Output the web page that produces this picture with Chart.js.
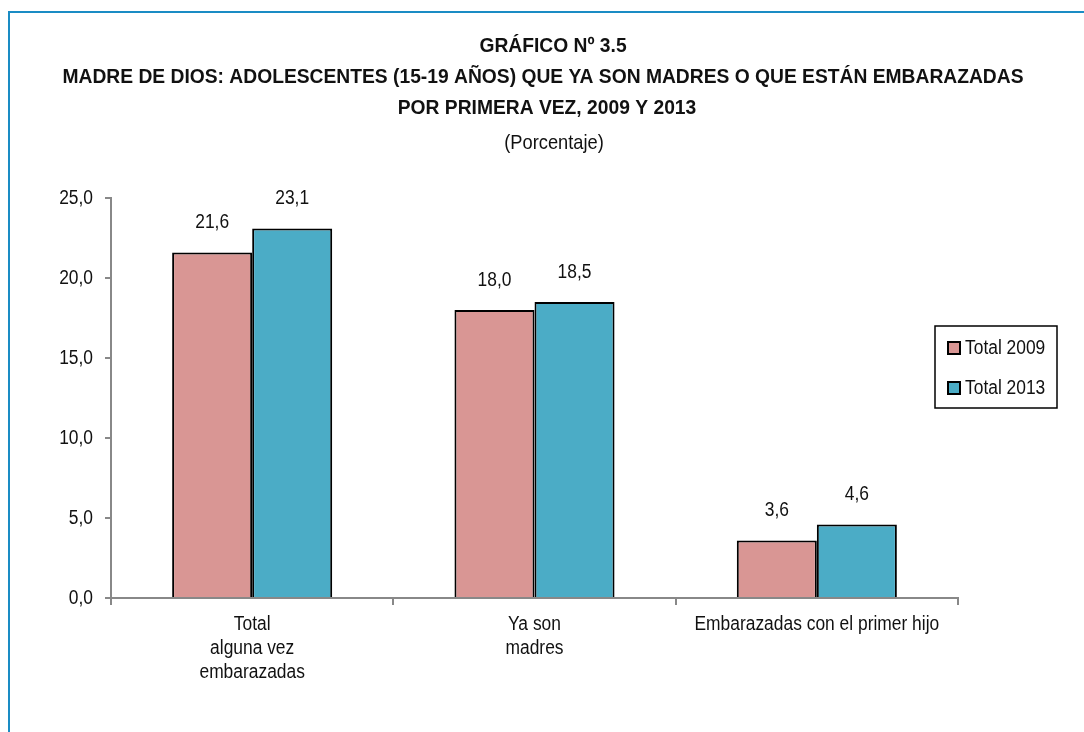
<!DOCTYPE html>
<html lang="es">
<head>
  <meta charset="UTF-8">
  <title>Gráfico 3.5 - Madre de Dios</title>
  <script src="https://cdn.jsdelivr.net/npm/chart.js"></script>
  <style>
    html, body { margin: 0; padding: 0; background: #fff; }
    #wrap { width: 1084px; height: 732px; position: relative; }
  </style>
</head>
<body>
  <div id="wrap">
    <canvas id="grafico"></canvas>
  </div>

  <script>
    // datos del grafico
    const titulo = [
      "GRÁFICO Nº 3.5",
      "MADRE DE DIOS: ADOLESCENTES (15-19 AÑOS) QUE YA SON MADRES O QUE ESTÁN EMBARAZADAS",
      "POR PRIMERA VEZ, 2009 Y 2013"
    ];
    const subtitulo = "(Porcentaje)";
    const categorias = [
      ["Total", "alguna vez", "embarazadas"],
      ["Ya son", "madres"],
      ["Embarazadas con el primer hijo"]
    ];
    const etiquetasSeries = ["Total 2009", "Total 2013"];
    const valores2009 = [21.6, 18.0, 3.6];
    const valores2013 = [23.1, 18.5, 4.6];
    const ticksY = [0, 5, 10, 15, 20, 25];

    // letra tipo Arial Narrow: Liberation Sans comprimida en horizontal
    const fuente = "'Liberation Sans', Arial, sans-serif";
    const estrecho = 0.87;
    const coma = v => v.toFixed(1).replace(".", ",");

    function texto(ctx, t, x, y, size, bold, align, sx) {
      ctx.save();
      ctx.font = (bold ? "bold " : "") + size + "px " + fuente;
      ctx.fillStyle = "#111";
      ctx.textAlign = align;
      ctx.textBaseline = "middle";
      ctx.translate(x, y);
      ctx.scale(sx || estrecho, 1);
      ctx.fillText(t, 0, 0);
      ctx.restore();
    }

    // marco azul y titulos
    const marco = {
      id: "marco",
      beforeDraw(chart) {
        const ctx = chart.ctx;
        ctx.save();
        ctx.strokeStyle = "#1a8cc4";
        ctx.lineWidth = 2;
        ctx.beginPath();
        ctx.moveTo(9, chart.height);
        ctx.lineTo(9, 12);
        ctx.lineTo(chart.width, 12);
        ctx.stroke();

        // ancho de la linea mas larga = 961px en la referencia
        ctx.font = "bold 20px " + fuente;
        const sx = 961 / ctx.measureText(titulo[1]).width;
        ctx.restore();
        const centros = [553, 543, 547];
        titulo.forEach((t, i) => texto(ctx, t, centros[i], 46 + i * 31, 20, true, "center", sx));
        texto(ctx, subtitulo, 554, 143, 21, false, "center");
      }
    };

    // etiquetas de los ejes dibujadas desde las escalas
    const etiquetasEjes = {
      id: "etiquetasEjes",
      afterDraw(chart) {
        const ctx = chart.ctx;
        const y = chart.scales.y, x = chart.scales.x;
        y.ticks.forEach(t => {
          texto(ctx, coma(t.value), y.right - 18, y.getPixelForValue(t.value), 20, false, "right");
        });
        categorias.forEach((lineas, i) => {
          const cx = x.getPixelForValue(i);
          lineas.forEach((l, k) => texto(ctx, l, cx, x.top + 26 + k * 24, 20, false, "center"));
        });
      }
    };

    // valores encima de las barras
    const etiquetasBarras = {
      id: "etiquetasBarras",
      afterDatasetsDraw(chart) {
        const ctx = chart.ctx;
        chart.data.datasets.forEach((ds, i) => {
          chart.getDatasetMeta(i).data.forEach((bar, j) => {
            texto(ctx, coma(ds.data[j]), bar.x, bar.y - 30, 20, false, "center");
          });
        });
      }
    };

    // leyenda con recuadro a la derecha
    const leyenda = {
      id: "leyenda",
      afterDraw(chart) {
        const ctx = chart.ctx;
        const x = 935, y = 326, w = 122, h = 82;
        ctx.save();
        ctx.strokeStyle = "#000";
        ctx.lineWidth = 1.5;
        ctx.strokeRect(x, y, w, h);
        chart.data.datasets.forEach((ds, i) => {
          const cy = y + 22 + i * 40;
          ctx.fillStyle = ds.backgroundColor;
          ctx.fillRect(x + 13, cy - 6, 12, 12);
          ctx.strokeStyle = "#000";
          ctx.lineWidth = 2;
          ctx.strokeRect(x + 13, cy - 6, 12, 12);
        });
        ctx.restore();
        chart.data.datasets.forEach((ds, i) => {
          texto(ctx, ds.label, x + 30, y + 22 + i * 40, 20, false, "left");
        });
      }
    };

    new Chart(document.getElementById("grafico"), {
      type: "bar",
      data: {
        labels: categorias,
        datasets: [
          {
            label: etiquetasSeries[0],
            data: valores2009,
            backgroundColor: "#d99694",
            borderColor: "#000",
            borderWidth: 2
          },
          {
            label: etiquetasSeries[1],
            data: valores2013,
            backgroundColor: "#4bacc6",
            borderColor: "#000",
            borderWidth: 2
          }
        ]
      },
      options: {
        responsive: true,
        maintainAspectRatio: false,
        animation: false,
        layout: { padding: { left: 0, right: 126, top: 198, bottom: 0 } },
        datasets: { bar: { categoryPercentage: 0.567, barPercentage: 1 } },
        plugins: {
          legend: { display: false },
          tooltip: { enabled: false },
          title: { display: false }
        },
        scales: {
          x: {
            grid: {
              offset: true,
              drawOnChartArea: false,
              drawTicks: true,
              tickLength: 7,
              color: "#888",
              lineWidth: 2
            },
            border: { color: "#888", width: 2 },
            ticks: { display: false },
            afterFit(scale) { scale.height = 134; }
          },
          y: {
            min: 0,
            max: 25,
            afterBuildTicks(scale) { scale.ticks = ticksY.map(v => ({ value: v })); },
            grid: {
              drawOnChartArea: false,
              drawTicks: true,
              tickLength: 6,
              color: "#888",
              lineWidth: 2
            },
            border: { color: "#888", width: 2 },
            ticks: { display: false },
            afterFit(scale) { scale.width = 111; }
          }
        }
      },
      plugins: [marco, etiquetasEjes, etiquetasBarras, leyenda]
    });
  </script>
</body>
</html>
